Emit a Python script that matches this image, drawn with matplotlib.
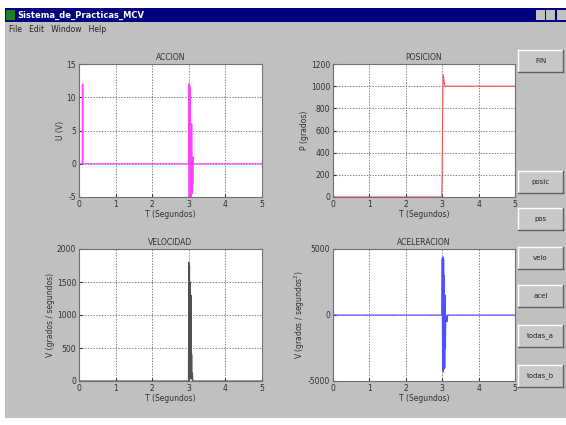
import matplotlib
matplotlib.use('Agg')
import matplotlib.pyplot as plt
from matplotlib.patches import Rectangle

plt.rcParams['axes.unicode_minus'] = False

W, H = 566, 425

# datos
acc_t = [0, 0.09, 0.09, 0.11, 0.11, 2.99, 3.00, 3.01, 3.02, 3.03, 3.04, 3.05, 3.06, 3.07, 3.08, 3.09, 3.10, 3.11, 3.12, 3.13, 5.0]
acc_u = [0, 0, 12, 12, 0, 0, 12, -5, 12, -5, 11.5, -5, 6, -5, 6, -4.5, 1, -3, 1, 0, 0]

pos_t = [0, 2.99, 3.00, 3.01, 3.02, 3.03, 3.04, 3.06, 3.08, 5.0]
pos_p = [0, 0, 300, 700, 1000, 1100, 1080, 1020, 1000, 1000]

vel_t = [0, 2.99, 3.00, 3.01, 3.02, 3.03, 3.04, 3.05, 3.06, 3.07, 3.08, 3.09, 3.10, 3.11, 5.0]
vel_v = [0, 0, 1800, 0, 1750, 30, 1500, 60, 1300, 40, 400, 20, 120, 0, 0]

ace_t = [0, 2.99, 3.00, 3.01, 3.02, 3.03, 3.04, 3.05, 3.06, 3.07, 3.08, 3.09, 3.10, 3.12, 3.14, 3.15, 5.0]
ace_a = [0, 0, 4300, -4200, 4400, -4300, 4200, -4100, 3000, -4000, 1500, -2500, 0, -500, -500, 0, 0]

titulos = ['ACCION', 'POSICION', 'VELOCIDAD', 'ACELERACION']
ylabels = ['U (V)', 'P (grados)', 'V (grados / segundos)', 'V (grados / segundos$^2$)']
botones = ['FIN', 'posic', 'pos', 'velo', 'acel', 'todas_a', 'todas_b']
boton_y = [50, 171, 208, 247, 285, 325, 365]

GRIS = '#c0c0c0'

def fx(x):
    return x / W

def fy(y):
    return 1 - y / H

fig = plt.figure(figsize=(5.66, 4.25), dpi=100)
fig.patch.set_facecolor('white')

def rect(x0, y0, x1, y1, color, z=0, ec='none', lw=0):
    r = Rectangle((fx(x0), fy(y1)), fx(x1 - x0), (y1 - y0) / H, transform=fig.transFigure,
                  facecolor=color, edgecolor=ec, linewidth=lw, zorder=z)
    fig.patches.append(r)

def linea(xs, ys, color):
    fig.lines.append(plt.Line2D([fx(x) for x in xs], [fy(y) for y in ys],
                                transform=fig.transFigure, color=color, lw=1))

# ventana
rect(5, 8, 566, 418, GRIS, z=-2)
rect(5, 8, 566, 22, '#000080', z=-1)
rect(6, 10, 15, 20, '#208020', z=-1)
fig.text(fx(17), fy(15), 'Sistema_de_Practicas_MCV', color='white', fontsize=6, fontweight='bold',
         va='center', ha='left')
for x0 in [536, 546, 557]:
    rect(x0, 10, x0 + 9, 20, GRIS, z=-1)
fig.text(fx(9), fy(29), 'File   Edit   Window   Help', color='#202020', fontsize=5.5, va='center')

# botones
for nom, y0 in zip(botones, boton_y):
    rect(518, y0, 563, y0 + 22, '#c8c8c8', z=-1)
    linea([518, 563], [y0, y0], 'white')
    linea([518, 518], [y0, y0 + 22], 'white')
    linea([518, 563], [y0 + 22, y0 + 22], '#606060')
    linea([563, 563], [y0, y0 + 22], '#606060')
    fig.text(fx(540.5), fy(y0 + 11), nom, fontsize=5, ha='center', va='center', color='#202020')

# ejes
pos = [(79, 64, 262, 197), (333, 64, 515, 197), (79, 249, 262, 381), (333, 249, 515, 381)]
datos = [(acc_t, acc_u, '#ff40ff'), (pos_t, pos_p, '#ff5050'), (vel_t, vel_v, '#505050'), (ace_t, ace_a, '#5050ff')]
ylims = [(-5, 15), (0, 1200), (0, 2000), (-5000, 5000)]
yticks = [[-5, 0, 5, 10, 15], [0, 200, 400, 600, 800, 1000, 1200], [0, 500, 1000, 1500, 2000], [-5000, 0, 5000]]

for i in range(4):
    x0, y0, x1, y1 = pos[i]
    ax = fig.add_axes([fx(x0), fy(y1), fx(x1 - x0), (y1 - y0) / H])
    ax.set_zorder(5)
    t, v, c = datos[i]
    ax.plot(t, v, color=c, lw=0.8)
    ax.set_xlim(0, 5)
    ax.set_ylim(*ylims[i])
    ax.set_xticks([0, 1, 2, 3, 4, 5])
    ax.set_yticks(yticks[i])
    ax.grid(True, color='#505050', linestyle=(0, (2, 2)), lw=0.5)
    ax.tick_params(direction='in', labelsize=5.5, length=2, colors='#303030', pad=2)
    for s in ax.spines.values():
        s.set_color('#707070')
    ax.set_title(titulos[i], fontsize=5.5, color='#303030', pad=3)
    ax.set_xlabel('T (Segundos)', fontsize=5.5, color='#303030', labelpad=1)
    ax.set_ylabel(ylabels[i], fontsize=5.5, color='#303030', labelpad=1)

fig.savefig('out.png', dpi=100, facecolor=fig.get_facecolor())
